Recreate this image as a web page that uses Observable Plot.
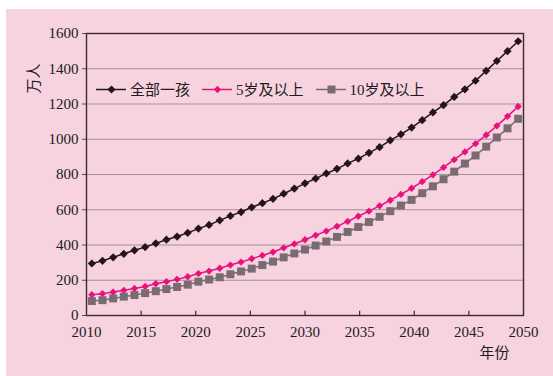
<!DOCTYPE html>
<html>
<head>
<meta charset="utf-8">
<script src="https://cdn.jsdelivr.net/npm/d3@7"></script>
<script src="https://cdn.jsdelivr.net/npm/@observablehq/plot@0.6"></script>
<style>
  html, body { margin: 0; padding: 0; background: #ffffff; }
  #wrap { position: relative; width: 553px; height: 376px;
    background: linear-gradient(#f6d3df, #f6d3df) no-repeat 6px 9px / 547px 367px; }
  #wrap > svg { display: block; }
  .legend { position: absolute; left: 96px; top: 78px; display: flex; align-items: center;
    font-family: "Liberation Serif", "Noto Sans CJK SC", serif; font-size: 15px; color: #231a1e; }
  .legend .item { display: flex; align-items: center; margin-right: 12px; }
  .legend svg { margin-right: 4px; }
</style>
</head>
<body>
<div id="wrap"></div>
<script>
const years = d3.range(2010, 2051);
const seriesNames = ["全部一孩", "5岁及以上", "10岁及以上"];
const allOneChild = [295, 310, 330, 350, 370, 388, 409, 430, 448, 469, 493, 514, 540, 565, 587, 614, 637, 662, 691, 720,
  750, 777, 806, 832, 863, 890, 923, 955, 994, 1028, 1066, 1108, 1152, 1194, 1240, 1283, 1332, 1388, 1444, 1500, 1556];
const age5Plus = [118, 124, 133, 143, 153, 165, 180, 192, 205, 220, 238, 252, 268, 286, 303, 322, 341, 360, 384, 406,
  430, 455, 479, 506, 534, 563, 592, 622, 654, 687, 722, 760, 798, 840, 884, 928, 975, 1024, 1076, 1130, 1186];
const age10Plus = [82, 87, 97, 107, 116, 127, 138, 150, 162, 175, 192, 204, 217, 234, 250, 266, 286, 306, 330, 352,
  374, 397, 420, 446, 474, 502, 530, 560, 592, 624, 656, 694, 733, 773, 816, 862, 908, 958, 1010, 1062, 1116];
const xTicks = [2010, 2015, 2020, 2025, 2030, 2035, 2040, 2045, 2050];
const yTicks = [0, 200, 400, 600, 800, 1000, 1200, 1400, 1600];
const colors = ["#231519", "#e8127f", "#7a6b73"];
const symbols = ["diamond2", "diamond2", "square"];
const radii = [3.7, 3.3, 4.5];

// points sit at the centres of 41 equal category slots spanning 2010–2050
const n = years.length;
const catCenter = (i) => 2010 + (i + 0.5) * 40 / n;

const valuesList = [allOneChild, age5Plus, age10Plus];
const rows = [];
valuesList.forEach((vals, s) => vals.forEach((v, i) => rows.push({series: seriesNames[s], year: years[i], xpos: catCenter(i), value: v})));

const font = "Liberation Serif, Noto Sans CJK SC, serif";
const marks = [
  Plot.gridY(yTicks.slice(1, -1), {stroke: "#a48f99", strokeOpacity: 1, strokeWidth: 1.2}),
  Plot.axisY(yTicks, {tickSize: 4, tickPadding: 4, fontSize: 15, label: null, stroke: "#5a464e", color: "#231a1e", tickFormat: d => String(d)}),
  Plot.axisX(xTicks, {tickSize: 0, tickPadding: 11, fontSize: 15, label: null, tickFormat: d => String(d), color: "#231a1e"}),
  Plot.ruleX(xTicks.slice(1, -1), {y1: 0, y2: 24, stroke: "#3b2a31", strokeWidth: 1.2}),
  Plot.frame({stroke: "#3b2a31", strokeWidth: 1.4}),
];
seriesNames.forEach((name, s) => {
  const d = rows.filter(r => r.series === name);
  marks.push(Plot.line(d, {x: "xpos", y: "value", stroke: colors[s], strokeWidth: 1.5}));
  marks.push(Plot.dot(d, {x: "xpos", y: "value", symbol: () => symbols[s], r: radii[s], fill: colors[s], stroke: "none"}));
});
marks.push(Plot.text(["万人"], {frameAnchor: "top-left", dx: -52, dy: 45, rotate: -90, textAnchor: "middle", lineAnchor: "middle", fontSize: 15, fill: "#231a1e", fontFamily: font}));
marks.push(Plot.text(["年份"], {frameAnchor: "bottom-right", dx: -29, dy: 38, textAnchor: "middle", lineAnchor: "middle", fontSize: 15, fill: "#231a1e", fontFamily: font}));

const chart = Plot.plot({
  width: 553,
  height: 376,
  marginLeft: 86,
  marginRight: 30,
  marginTop: 33,
  marginBottom: 61,
  style: {fontFamily: font, background: "transparent", overflow: "visible"},
  x: {domain: [2010, 2050]},
  y: {domain: [0, 1600]},
  symbol: {domain: ["diamond2", "square"], range: ["diamond2", "square"]},
  marks
});
const wrap = document.getElementById("wrap");
wrap.appendChild(chart);

// legend
const legend = document.createElement("div");
legend.className = "legend";
seriesNames.forEach((name, s) => {
  const item = document.createElement("div");
  item.className = "item";
  const sw = Plot.plot({
    width: 30, height: 16, margin: 0, axis: null,
    x: {domain: [0, 1]}, y: {domain: [0, 1]},
    style: {background: "transparent"},
    marks: [
      Plot.ruleY([0.5], {x1: 0, x2: 1, stroke: colors[s], strokeWidth: 1.5}),
      Plot.dot([{x: 0.5, y: 0.5}], {x: "x", y: "y", symbol: () => symbols[s], r: radii[s], fill: colors[s], stroke: "none"})
    ]
  });
  item.appendChild(sw);
  const t = document.createElement("span");
  t.textContent = name;
  item.appendChild(t);
  legend.appendChild(item);
});
wrap.appendChild(legend);
</script>
</body>
</html>
